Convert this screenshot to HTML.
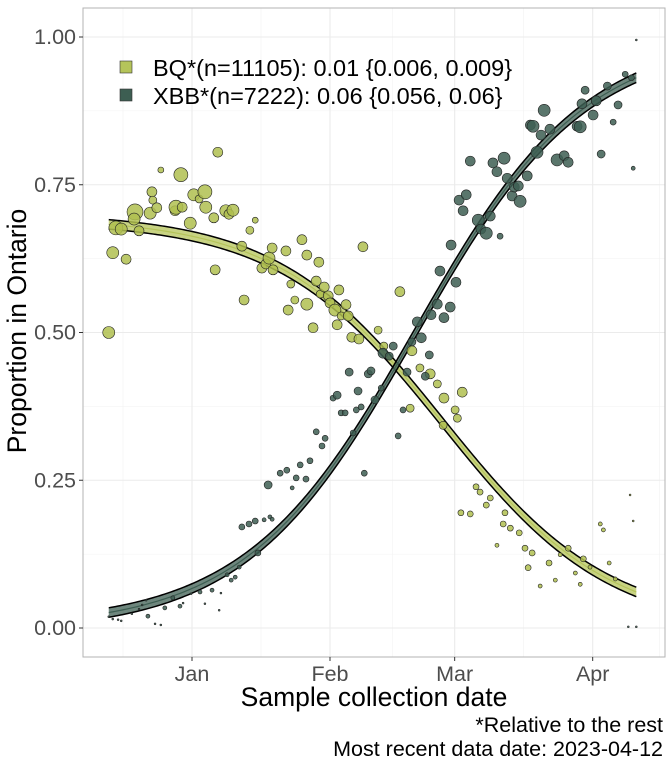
<!DOCTYPE html>
<html><head><meta charset="utf-8"><style>
body{margin:0;background:#fff;width:672px;height:768px;overflow:hidden}
svg text{font-family:"Liberation Sans",sans-serif}
</style></head><body>
<svg id="chart" width="672" height="768">
<g id="grid"></g>
<g id="band"></g>
<g id="pts"></g>
<rect x="83" y="8" width="582" height="649" fill="none" stroke="#b3b3b3" stroke-width="1"/>
<g id="axes"></g>
<g>
<rect x="120" y="61" width="12" height="12" fill="#b5c45a" stroke="#333" stroke-width="0.6"/>
<text x="153" y="76" font-size="23.5" fill="#000">BQ*(n=11105): 0.01 {0.006, 0.009}</text>
<rect x="120" y="89" width="12" height="12" fill="#3d5e52" stroke="#333" stroke-width="0.6"/>
<text x="153" y="104" font-size="23.5" fill="#000">XBB*(n=7222): 0.06 {0.056, 0.06}</text>
</g>
<text x="374" y="706" font-size="26.5" text-anchor="middle" fill="#000">Sample collection date</text>
<text transform="translate(26,331) rotate(-90)" font-size="26.5" text-anchor="middle" fill="#000">Proportion in Ontario</text>
<text x="663" y="732" font-size="21.5" text-anchor="end" fill="#000">*Relative to the rest</text>
<text x="663" y="756" font-size="21.5" text-anchor="end" fill="#000">Most recent data date: 2023-04-12</text>
</svg>
<script>
const xTickLabels=["Jan","Feb","Mar","Apr"];
const xTickDays=[0,31,59,90];
const yTicks=[0,0.25,0.5,0.75,1.0];
const yTickLabels=["0.00","0.25","0.50","0.75","1.00"];
const bqDay=[-18.7,-17.8,-17.1,-15.9,-14.8,-12.8,-13.0,-11.9,-9.4,-9.0,-7.0,-8.8,-7.9,-3.8,-3.6,-2.2,-2.5,-0.4,0.4,1.6,2.9,3.1,4.9,5.8,5.2,7.6,8.3,9.2,11.2,11.7,14.2,13.0,15.7,16.6,17.3,18.2,18.0,21.1,21.6,23.1,22.2,24.7,25.8,25.8,27.2,27.9,28.5,28.8,29.7,30.6,31.0,32.1,32.6,33.0,33.5,35.1,35.9,38.4,34.6,37.5,41.8,43.1,46.7,49.4,49.0,51.2,53.5,55.1,56.6,56.4,59.1,60.7,59.6,60.4,62.5,63.8,64.7,66.1,67.0,68.5,69.9,70.3,71.5,73.5,74.8,75.5,76.4,78.2,80.2,81.6,82.7,84.5,86.1,87.2,87.9,89.4,91.7,92.4,93.7,95.1,98.4,99.1];
const bqProp=[0.50,0.635,0.677,0.675,0.624,0.704,0.692,0.672,0.702,0.738,0.775,0.724,0.711,0.706,0.712,0.712,0.767,0.685,0.733,0.726,0.738,0.712,0.694,0.805,0.606,0.706,0.700,0.707,0.646,0.555,0.690,0.673,0.609,0.616,0.626,0.606,0.643,0.638,0.538,0.555,0.582,0.657,0.548,0.631,0.508,0.587,0.619,0.565,0.577,0.562,0.550,0.538,0.513,0.572,0.528,0.528,0.492,0.645,0.547,0.489,0.504,0.477,0.569,0.469,0.372,0.440,0.430,0.413,0.389,0.343,0.369,0.399,0.355,0.195,0.193,0.239,0.230,0.208,0.220,0.140,0.176,0.195,0.169,0.161,0.135,0.102,0.127,0.071,0.110,0.081,0.124,0.135,0.093,0.074,0.117,0.103,0.176,0.166,0.110,0.083,0.225,0.181];
const bqN=[81,81,110,81,56,144,81,56,81,56,20,36,56,56,110,56,110,81,81,36,110,81,56,56,56,81,56,81,56,56,20,36,56,56,81,56,56,56,56,36,36,56,81,56,56,56,56,36,56,56,56,81,56,56,36,56,56,56,56,56,36,36,56,56,36,36,56,36,56,36,36,56,36,20,20,20,20,20,20,9,20,20,20,20,20,20,20,9,20,9,9,20,9,9,20,9,9,9,9,9,2,2];
const xbbDay=[-18.7,-17.8,-16.6,-15.9,-13.5,-11.9,-11.2,-10.3,-9.9,-8.3,-7.0,-6.1,-4.3,-2.7,-2.0,-0.2,1.8,2.9,4.5,6.1,6.5,7.9,8.8,9.7,10.6,11.2,12.8,14.2,14.8,16.2,17.5,17.1,18.0,19.8,21.3,22.5,23.4,24.3,25.6,26.5,27.9,29.2,29.9,31.7,32.6,33.5,34.4,35.3,36.2,36.9,37.3,38.0,38.7,39.6,40.2,41.1,42.5,42.9,44.3,45.2,46.3,47.4,48.3,49.4,50.6,51.5,52.4,53.3,53.7,55.1,55.7,56.6,58.0,58.2,59.3,60.0,60.9,61.6,62.5,64.3,64.9,66.1,67.0,67.6,68.5,69.2,70.1,70.8,71.9,72.4,73.3,73.7,75.3,76.0,76.6,77.5,78.4,79.1,80.4,82.0,83.6,84.5,86.5,87.2,87.6,88.3,90.1,90.8,91.9,93.3,94.6,95.7,97.3,98.7,99.8,99.1,98.0,99.8];
const xbbProp=[0.019,0.015,0.014,0.012,0.024,0.032,0.039,0.047,0.020,0.007,0.005,0.034,0.051,0.037,0.042,0.058,0.061,0.041,0.064,0.030,0.059,0.090,0.081,0.086,0.103,0.171,0.176,0.181,0.127,0.183,0.188,0.242,0.184,0.262,0.267,0.237,0.254,0.276,0.252,0.283,0.332,0.308,0.321,0.389,0.394,0.364,0.364,0.433,0.330,0.369,0.401,0.374,0.262,0.430,0.435,0.386,0.406,0.465,0.460,0.477,0.325,0.369,0.433,0.484,0.518,0.491,0.426,0.462,0.530,0.548,0.604,0.525,0.543,0.648,0.585,0.724,0.706,0.733,0.790,0.690,0.675,0.668,0.697,0.787,0.772,0.663,0.795,0.761,0.731,0.746,0.748,0.722,0.765,0.851,0.849,0.805,0.834,0.876,0.844,0.792,0.799,0.788,0.849,0.848,0.887,0.910,0.868,0.892,0.802,0.917,0.856,0.885,0.937,0.931,0.995,0.778,0.002,0.002];
const xbbN=[2,2,2,2,2,2,2,2,9,2,2,9,9,9,2,2,9,2,9,2,2,9,9,9,9,20,20,20,20,9,9,36,9,20,20,9,20,20,20,20,20,20,20,20,36,20,20,36,20,20,36,20,20,36,36,36,20,56,36,36,20,20,36,36,56,56,36,36,56,56,56,56,56,56,56,56,56,56,56,81,56,81,56,56,56,20,81,56,56,56,56,81,56,56,81,81,56,81,56,81,56,56,56,81,56,36,56,56,36,36,20,36,20,20,2,9,2,2];
const bqFit={L:0.695,k:0.0538,t0:56.3};
const xbbFit={L:1.0,k:0.0525,t0:50.2};
const dayMin=-18.7,dayMax=99.8;

const NS="http://www.w3.org/2000/svg";
const xs=d=>192+d*4.452;
const ys=p=>628-p*591;
const rs=n=>Math.sqrt(n)/1.5;
function mk(tag,attrs,parent){const e=document.createElementNS(NS,tag);for(const k in attrs)e.setAttribute(k,attrs[k]);parent.appendChild(e);return e;}
const grid=document.getElementById('grid'),axes=document.getElementById('axes');
for(let i=0;i<yTicks.length-1;i++){const y=ys((yTicks[i]+yTicks[i+1])/2);
 const l=mk('line',{x1:83,x2:665,y1:y,y2:y,stroke:'#f2f2f2','stroke-width':0.6},grid);
 }
const minorX=[-15.5,15.5,45,74.5,105];
minorX.forEach(d=>{const x=xs(d);if(x<83||x>665)return;
 const l=mk('line',{x1:x,x2:x,y1:8,y2:657,stroke:'#f2f2f2','stroke-width':0.6},grid);
 });
yTicks.forEach((v,i)=>{const y=ys(v);
 const l=mk('line',{x1:83,x2:665,y1:y,y2:y,stroke:'#ebebeb','stroke-width':1.1},grid);
 
 const t=mk('line',{x1:79,x2:83,y1:y,y2:y,stroke:'#333','stroke-width':1},axes);
 
 const tx=mk('text',{x:76,y:y+7,'font-size':21.5,'text-anchor':'end',fill:'#4d4d4d'},axes);tx.textContent=yTickLabels[i];
 });
xTickDays.forEach((d,i)=>{const x=xs(d);
 const l=mk('line',{x1:x,x2:x,y1:8,y2:657,stroke:'#ebebeb','stroke-width':1.1},grid);
 
 const t=mk('line',{x1:x,x2:x,y1:657,y2:661,stroke:'#333','stroke-width':1},axes);
 
 const tx=mk('text',{x:x,y:681,'font-size':21.5,'text-anchor':'middle',fill:'#4d4d4d'},axes);tx.textContent=xTickLabels[i];
 });
const band=document.getElementById('band');
function curve(f,off){const pts=[];for(let d=dayMin;d<=dayMax+0.01;d+=0.5){const p=f.L/(1+Math.exp(f.k*(d-f.t0)*(f===bqFit?1:-1)));pts.push([xs(d),ys(p+off)]);}return pts;}
function drawFit(f,fill,name){
 const up=curve(f,0.008),lo=curve(f,-0.008);
 const poly=up.concat(lo.slice().reverse()).map(p=>p.join(',')).join(' ');
 const b=mk('polygon',{points:poly,fill:fill,'fill-opacity':0.75},band);
 
 const mid=curve(f,0).map(p=>p.join(',')).join(' ');
 const m=mk('polyline',{points:mid,fill:'none',stroke:fill,'stroke-width':1.2},band);
 
 [up,lo].forEach(c=>{const e=mk('polyline',{points:c.map(p=>p.join(',')).join(' '),fill:'none',stroke:'#000','stroke-width':1.5},band);
  });
}
const pts=document.getElementById('pts');
function drawPts(D,P,N,fill,name){for(let i=0;i<D.length;i++){
 const c=mk('circle',{cx:xs(D[i]),cy:ys(P[i]),r:Math.max(0.8,rs(N[i])),fill:fill,'fill-opacity':0.85,stroke:'#222','stroke-width':0.6},pts);
 }}
drawPts(bqDay,bqProp,bqN,'#b0c050','bq');
drawPts(xbbDay,xbbProp,xbbN,'#3d5e52','xbb');
drawFit(bqFit,'#b5c45a','bq');
drawFit(xbbFit,'#3d5e52','xbb');
</script>
</body></html>
